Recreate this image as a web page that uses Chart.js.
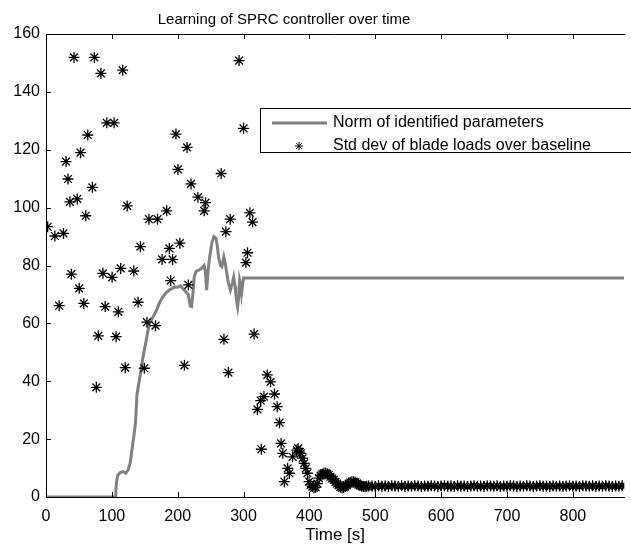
<!DOCTYPE html>
<html>
<head>
<meta charset="utf-8">
<title>Learning of SPRC controller over time</title>
<script src="https://cdn.jsdelivr.net/npm/chart.js@4.4.1/dist/chart.umd.min.js"></script>
<style>
  html, body { margin: 0; padding: 0; background: #fff; }
  #chart { display: block; }
</style>
</head>
<body>
<canvas id="chart" width="631" height="547"></canvas>
<script>
// --- dati ---
const titolo = 'Learning of SPRC controller over time';
const etichettaX = 'Time [s]';
const nomiSerie = ['Norm of identified parameters', 'Std dev of blade loads over baseline'];

const xTicks = [0, 100, 200, 300, 400, 500, 600, 700, 800];
const yTicks = [0, 20, 40, 60, 80, 100, 120, 140, 160];

// norma dei parametri identificati (linea grigia)
const normaTempo = [0, 105, 106, 107, 109, 113, 117, 121, 125, 128, 131, 134, 136, 138, 140, 143, 147, 152, 157, 162,
  168, 172, 177, 182, 187, 191, 195, 200, 204, 207, 212, 216, 219, 221, 223, 225, 228, 232, 236, 240,
  242, 244, 246, 248, 250, 252, 255, 258, 260, 262, 265, 267, 270, 272, 274, 277, 280, 283, 285, 287,
  288, 290, 291, 293, 294, 296, 297, 299, 300, 878];
const normaValori = [0, 0, 2, 5, 7.5, 8.5, 8.8, 8.2, 9.5, 12, 17, 22, 26, 35, 38, 42, 48, 54, 60, 62,
  64.6, 67, 69, 70.5, 71.5, 72, 72.6, 72.5, 73, 72.2, 71, 70, 66, 65.8, 70, 76, 78, 78.4, 79, 80,
  78, 71.5, 78, 82, 85, 88, 90, 89.5, 87, 83, 80, 79.6, 83, 81, 78, 74, 71.5, 74, 76, 73,
  70.5, 67, 65.7, 70, 75, 73, 70.5, 74, 75.7, 75.7];

// deviazione standard dei carichi (asterischi)
const stdTempo = [2.5, 13.5, 20, 26.5, 30.4, 33.4, 36.4, 38.5, 42.5, 47.5, 50.4, 52.4, 57.4, 60.4, 63.4, 70.4,
  73.4, 76.4, 79.4, 83.4, 86.4, 89.9, 92.4, 100.4, 103.4, 106.4, 109.8, 113.4, 116.4, 120.3, 123.3, 133.3,
  139.8, 143.3, 149.3, 153.3, 156.3, 166.3, 169.3, 176.3, 183.3, 187.3, 189.3, 192.2, 197.3, 200.3, 203.3,
  210.2, 214.2, 216.2, 220.2, 230.7, 240.2, 242.2, 266, 270.2, 273.1, 277, 279.7, 293.2, 300, 303.6, 306,
  309.6, 313.6, 316, 321, 326, 327, 331, 336, 341, 347, 351, 354.6, 357, 359.6, 362, 367, 369.6, 374.5, 381,
  383, 385, 387, 389.6, 392, 394.5, 397, 399.5, 402, 404.5, 407, 409.5, 412, 414.5, 417, 419.5, 422, 424.5,
  427, 429.5, 432, 434.5, 437, 439.5, 442, 444.5, 447, 449.5, 452, 454.5, 457, 459.5, 462, 464.5, 467, 469.5,
  472, 474.5, 477, 479.5, 482, 484.5, 487, 490,
  495, 500, 505, 510, 515, 520, 525, 530, 535, 540, 545, 550, 555, 560, 565, 570, 575, 580, 585, 590,
  595, 600, 605, 610, 615, 620, 625, 630, 635, 640, 645, 650, 655, 660, 665, 670, 675, 680, 685, 690,
  695, 700, 705, 710, 715, 720, 725, 730, 735, 740, 745, 750, 755, 760, 765, 770, 775, 780, 785, 790,
  795, 800, 805, 810, 815, 820, 825, 830, 835, 840, 845, 850, 855, 860, 865, 870, 875, 880];
const stdValori = [93.4, 90.2, 66.1, 91.1, 115.9, 109.9, 102, 77, 151.9, 103, 72.1, 119, 66.9, 97.2, 125.1, 107,
  151.9, 37.9, 55.7, 146.4, 77.3, 65.8, 129.3, 75.9, 129.3, 55.4, 64, 79, 147.5, 44.7, 100.6, 78.1,
  67.3, 86.5, 44.5, 60.4, 96, 59.2, 96, 82.1, 98.9, 85.9, 74.8, 82.1, 125.4, 113.2, 87.7,
  45.5, 120.8, 73.3, 108.2, 103.6, 98.9, 101.7, 111.8, 54.5, 91.7, 43, 96, 150.8, 127.4, 81, 84.4,
  98.2, 95, 56.3, 30.3, 33.3, 16.5, 34.7, 42.2, 39.8, 35.6, 31.2, 25.7, 18.5, 15.1, 5.3, 9.9, 8.2, 13.9, 16.2,
  16.8, 15.5, 15.1, 13.4, 11.6, 9.9, 8.2, 5.3, 4.2, 3.6, 3.2, 3.4, 4.6, 6.5, 7.4, 7.9, 8.2, 8.3,
  8, 7.6, 7, 6.4, 5.9, 5.2, 4.6, 4.1, 3.4, 3.2, 3.3, 3.6, 4.1, 4.6, 5, 5.3, 5.3, 5.1,
  4.7, 4.3, 4, 3.7, 3.6, 3.6, 3.7, 3.8,
  3.8, 3.6, 3.9, 3.7, 3.8, 3.6, 3.9, 3.8, 3.7, 3.9, 3.6, 3.8, 3.7, 3.9, 3.8, 3.6, 3.8, 3.7, 3.9, 3.8,
  3.6, 3.8, 3.9, 3.7, 3.8, 3.6, 3.9, 3.7, 3.8, 3.6, 3.8, 3.9, 3.7, 3.8, 3.6, 3.9, 3.8, 3.7, 3.9, 3.6,
  3.8, 3.7, 3.9, 3.8, 3.6, 3.8, 3.7, 3.9, 3.8, 3.6, 3.8, 3.9, 3.7, 3.8, 3.6, 3.9, 3.7, 3.8, 3.6, 3.8,
  3.9, 3.7, 3.8, 3.6, 3.9, 3.8, 3.7, 3.9, 3.6, 3.8, 3.7, 3.9, 3.8, 3.6, 3.8, 3.7, 3.9, 3.8];

// --- stile ---
const FONT = "'Liberation Sans', Arial, Helvetica, sans-serif";
const GRIGIO = '#808080';

// titolo, cornice, tacche interne e legenda come in MATLAB
const cornice = {
  id: 'cornice',
  afterDraw(chart) {
    const { ctx, chartArea: a, scales: { x, y } } = chart;
    ctx.save();

    // bordo superiore + tacche verso l'interno
    ctx.strokeStyle = '#000';
    ctx.lineWidth = 1;
    ctx.beginPath();
    ctx.moveTo(a.left, a.top + 0.5);
    ctx.lineTo(a.right + 1, a.top + 0.5);
    xTicks.forEach(v => {
      const px = Math.round(x.getPixelForValue(v)) + 0.5;
      ctx.moveTo(px, a.bottom);
      ctx.lineTo(px, a.bottom - 5);
      ctx.moveTo(px, a.top);
      ctx.lineTo(px, a.top + 5);
    });
    yTicks.forEach(v => {
      const py = Math.round(y.getPixelForValue(v)) + 0.5;
      ctx.moveTo(a.left, py);
      ctx.lineTo(a.left + 5, py);
    });
    ctx.stroke();

    // titolo
    ctx.fillStyle = '#000';
    ctx.font = '15px ' + FONT;
    ctx.textAlign = 'center';
    ctx.textBaseline = 'alphabetic';
    ctx.fillText(titolo, 284, 23.5);

    // legenda
    const lx = 260.5, ly = 108.5;
    ctx.fillStyle = '#fff';
    ctx.fillRect(lx, ly, 400, 44);
    ctx.strokeStyle = '#000';
    ctx.strokeRect(lx, ly, 400, 44);

    ctx.strokeStyle = GRIGIO;
    ctx.lineWidth = 3;
    ctx.beginPath();
    ctx.moveTo(272, 123);
    ctx.lineTo(327, 123);
    ctx.stroke();

    ctx.strokeStyle = '#000';
    ctx.lineWidth = 1;
    const r = 4, sx = 299, sy = 146;
    ctx.beginPath();
    ctx.moveTo(sx - r, sy); ctx.lineTo(sx + r, sy);
    ctx.moveTo(sx, sy - r); ctx.lineTo(sx, sy + r);
    const d = r * 0.707;
    ctx.moveTo(sx - d, sy - d); ctx.lineTo(sx + d, sy + d);
    ctx.moveTo(sx - d, sy + d); ctx.lineTo(sx + d, sy - d);
    ctx.stroke();

    ctx.fillStyle = '#000';
    ctx.font = '16px ' + FONT;
    ctx.textAlign = 'left';
    ctx.textBaseline = 'middle';
    ctx.fillText(nomiSerie[0], 333, 123);
    ctx.fillText(nomiSerie[1], 333, 145.5);

    ctx.restore();
  }
};

function initChart() {
  const ctx = document.getElementById('chart').getContext('2d');
  new Chart(ctx, {
    type: 'scatter',
    data: {
      datasets: [
        {
          label: nomiSerie[1],
          data: stdTempo.map((t, i) => ({ x: t, y: stdValori[i] })),
          showLine: false,
          pointStyle: 'star',
          pointRadius: 5.5,
          pointBorderColor: '#000',
          pointBorderWidth: 1.3,
          borderColor: '#000',
          backgroundColor: '#000',
          order: 0
        },
        {
          label: nomiSerie[0],
          data: normaTempo.map((t, i) => ({ x: t, y: normaValori[i] })),
          showLine: true,
          borderColor: GRIGIO,
          borderWidth: 3,
          pointRadius: 0,
          tension: 0,
          order: 1
        }
      ]
    },
    options: {
      responsive: false,
      animation: false,
      layout: { padding: { top: 34, right: 0, left: 0, bottom: 0 } },
      plugins: {
        legend: { display: false },
        tooltip: { enabled: false },
        title: { display: false }
      },
      scales: {
        x: {
          type: 'linear',
          min: 0,
          max: 878,
          afterBuildTicks: s => { s.ticks = xTicks.map(v => ({ value: v })); },
          afterFit: s => { s.height = 50; },
          grid: { display: false, drawTicks: false },
          border: { display: true, color: '#000', width: 1 },
          ticks: { color: '#000', font: { family: FONT, size: 16 }, padding: 10, maxRotation: 0, autoSkip: false },
          title: { display: true, text: etichettaX, color: '#000', font: { family: FONT, size: 17 }, padding: { top: 0, bottom: 1 } }
        },
        y: {
          type: 'linear',
          min: 0,
          max: 160,
          afterBuildTicks: s => { s.ticks = yTicks.map(v => ({ value: v })); },
          afterFit: s => { s.width = 46; },
          grid: { display: false, drawTicks: false },
          border: { display: true, color: '#000', width: 1 },
          ticks: { color: '#000', font: { family: FONT, size: 16 }, padding: 6, autoSkip: false }
        }
      }
    },
    plugins: [cornice]
  });
}

document.addEventListener('DOMContentLoaded', initChart);
</script>
</body>
</html>
